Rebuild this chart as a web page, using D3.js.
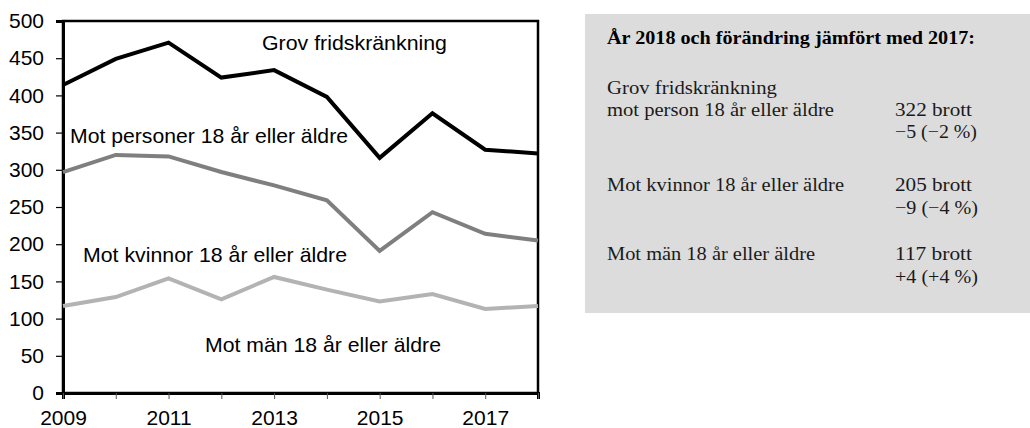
<!DOCTYPE html>
<html><head><meta charset="utf-8">
<script src="https://cdn.jsdelivr.net/npm/d3@7"></script>
<style>body{margin:0;background:#fff}svg{display:block}</style>
</head><body>
<svg id="c" width="1030" height="428"></svg>
<script>
const years = [2009,2010,2011,2012,2013,2014,2015,2016,2017,2018];
const total = [414,449,471,424,434,398,316,376,327,322];
const kvinnor = [297,320,318,297,279,259,191,243,214,205];
const man = [117,129,154,126,156,139,123,133,113,117];
const yTicks = [0,50,100,150,200,250,300,350,400,450,500];
const xTickLabels = [2009,2011,2013,2015,2017];
const seriesNames = ["total","kvinnor","man"];
const seriesLabels = ["Grov fridskränkning","Mot personer 18 år eller äldre","Mot kvinnor 18 år eller äldre","Mot män 18 år eller äldre"];
const boxTitle = "År 2018 och förändring jämfört med 2017:";
const boxLeft = [["Grov fridskränkning","mot person 18 år eller äldre"],["Mot kvinnor 18 år eller äldre"],["Mot män 18 år eller äldre"]];
const boxRight = [["322 brott","−5 (−2 %)"],["205 brott","−9 (−4 %)"],["117 brott","+4 (+4 %)"]];

// layout (positions/sizes)
const labelPos = [{x:262,y:50,w:185},{x:70,y:143,w:278},{x:83,y:262,w:264},{x:205,y:352,w:236}];
const leftBase = [[94,116],[191],[260]];
const rightBase = [[116,138],[191,214],[260,283]];
const leftW = [[170,227],[237],[208]];
const rightW = [[77,82],[77,83],[77,83]];

const svg = d3.select("#c");
const L=63, R=538, T=21, B=393;
const x = d3.scaleLinear().domain([2009,2018]).range([L,R]);
const y = d3.scaleLinear().domain([0,500]).range([B,T]);
const sans = "Liberation Sans, Arial, sans-serif";
const serif = "Liberation Serif, Times New Roman, serif";

svg.append("rect").attr("x",L).attr("y",T).attr("width",R-L).attr("height",B-T)
  .attr("fill","none").attr("stroke","#000").attr("stroke-width",2.5);

const yAxis = svg.append("g").attr("transform",`translate(${L},0)`)
  .call(d3.axisLeft(y).tickValues(yTicks).tickSize(7).tickPadding(12));
yAxis.select(".domain").attr("stroke-width",3);
yAxis.selectAll("text").attr("font-family",sans).attr("font-size",21).attr("fill","#000");
yAxis.selectAll("line").attr("stroke-width",1.2);

const xAxis = svg.append("g").attr("transform",`translate(0,${B})`)
  .call(d3.axisBottom(x).tickValues(years).tickSize(6).tickPadding(11)
    .tickFormat(d => xTickLabels.includes(d) ? String(d) : ""));
xAxis.select(".domain").attr("stroke-width",3);
xAxis.selectAll("text").attr("font-family",sans).attr("font-size",21).attr("fill","#000");
xAxis.selectAll("line").attr("stroke","#555").attr("stroke-width",1);

const line = d3.line().x((d,i)=>x(years[i])).y(d=>y(d));
const data = {total, kvinnor, man};
const colors = {total:"#000", kvinnor:"#7f7f7f", man:"#b3b3b3"};
seriesNames.slice().reverse().forEach(k=>{
  svg.append("path").datum(data[k]).attr("d",line).attr("fill","none")
    .attr("stroke",colors[k]).attr("stroke-width",4).attr("stroke-linejoin","miter");
});

seriesLabels.forEach((t,i)=>{
  svg.append("text").attr("x",labelPos[i].x).attr("y",labelPos[i].y).text(t)
    .attr("textLength",labelPos[i].w).attr("lengthAdjust","spacingAndGlyphs")
    .attr("font-family",sans).attr("font-size",21).attr("fill","#000");
});

// info box
svg.append("rect").attr("x",585).attr("y",14).attr("width",445).attr("height",299).attr("fill","#dcdcdc");
svg.append("text").attr("x",607).attr("y",44).text(boxTitle)
  .attr("textLength",368).attr("lengthAdjust","spacingAndGlyphs")
  .attr("font-family",serif).attr("font-weight","bold").attr("font-size",18).attr("fill","#000");
boxLeft.forEach((rows,i)=>{
  rows.forEach((s,j)=>{
    svg.append("text").attr("x",607).attr("y",leftBase[i][j]).text(s)
      .attr("textLength",leftW[i][j]).attr("lengthAdjust","spacingAndGlyphs")
      .attr("font-family",serif).attr("font-size",18.5).attr("fill","#1a1a1a");
  });
});
boxRight.forEach((rows,i)=>{
  rows.forEach((s,j)=>{
    svg.append("text").attr("x",895).attr("y",rightBase[i][j]).text(s)
      .attr("textLength",rightW[i][j]).attr("lengthAdjust","spacingAndGlyphs")
      .attr("font-family",serif).attr("font-size",18.5).attr("fill","#1a1a1a");
  });
});
</script>
</body></html>
